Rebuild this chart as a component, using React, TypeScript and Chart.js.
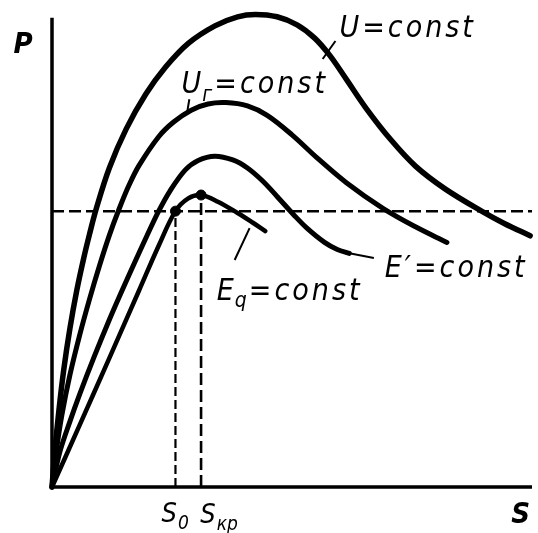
import React, { useEffect, useRef } from "react";
import { Chart, registerables } from "chart.js";

Chart.register(...registerables);

type Pt = { x: number; y: number };

// Angle axis (δ, degrees) and power axis (relative units)
const X_MAX = 180;
const Y_MAX = 100;
const Y_AXIS_TOP = 99;

// P(δ) with terminal voltage held constant
const uConst: Pt[] = [
  { x: 0, y: 0 }, { x: 1.1, y: 7.8 }, { x: 2.6, y: 16.2 }, { x: 4.4, y: 24.7 },
  { x: 6.7, y: 33.4 }, { x: 9.3, y: 41.5 }, { x: 11.9, y: 48.3 }, { x: 14.1, y: 53.4 },
  { x: 16.7, y: 58.9 }, { x: 21.5, y: 67.3 }, { x: 27.8, y: 75.5 }, { x: 35.2, y: 82.9 },
  { x: 42.6, y: 88.6 }, { x: 51.1, y: 93.6 }, { x: 61.1, y: 97.3 }, { x: 69.6, y: 99.2 },
  { x: 76.3, y: 99.7 }, { x: 84.4, y: 99.2 }, { x: 91.9, y: 97.5 }, { x: 98.5, y: 94.7 },
  { x: 104.1, y: 91.1 }, { x: 110.4, y: 86.0 }, { x: 117.8, y: 79.9 }, { x: 127.0, y: 73.3 },
  { x: 136.3, y: 67.7 }, { x: 147.4, y: 62.9 }, { x: 161.1, y: 58.2 }, { x: 169.6, y: 55.6 },
  { x: 179.3, y: 53.0 },
];

// P(δ) with generator voltage Uг held constant
const urConst: Pt[] = [
  { x: 0, y: 0 }, { x: 1.9, y: 8.7 }, { x: 3.7, y: 15.2 }, { x: 6.7, y: 23.6 },
  { x: 10.4, y: 32.1 }, { x: 14.1, y: 39.7 }, { x: 17.8, y: 46.7 }, { x: 21.5, y: 53.1 },
  { x: 25.2, y: 58.7 }, { x: 28.9, y: 63.7 }, { x: 32.6, y: 67.8 }, { x: 40.0, y: 73.9 },
  { x: 45.6, y: 77.0 }, { x: 52.2, y: 79.5 }, { x: 58.5, y: 80.8 }, { x: 65.2, y: 81.1 },
  { x: 73.3, y: 80.4 }, { x: 80.7, y: 78.4 }, { x: 90.0, y: 74.3 }, { x: 99.3, y: 69.5 },
  { x: 110.4, y: 64.2 }, { x: 124.1, y: 58.8 }, { x: 136.3, y: 54.9 }, { x: 148.1, y: 51.6 },
];

// P(δ) with transient EMF E′ held constant
const ePrimeConst: Pt[] = [
  { x: 0, y: 0 }, { x: 3.0, y: 7.5 }, { x: 6.7, y: 13.8 }, { x: 10.4, y: 19.6 },
  { x: 15.9, y: 27.6 }, { x: 21.5, y: 35.3 }, { x: 25.9, y: 41.0 }, { x: 30.7, y: 47.0 },
  { x: 35.6, y: 53.0 }, { x: 40.0, y: 58.2 }, { x: 44.4, y: 62.6 }, { x: 50.0, y: 66.9 },
  { x: 54.8, y: 68.9 }, { x: 61.1, y: 69.8 }, { x: 67.8, y: 69.0 }, { x: 73.3, y: 67.3 },
  { x: 78.9, y: 64.6 }, { x: 84.4, y: 61.3 }, { x: 90.7, y: 57.4 }, { x: 95.6, y: 54.6 },
  { x: 102.2, y: 51.6 }, { x: 107.0, y: 50.1 }, { x: 111.5, y: 49.3 },
];

// P(δ) with synchronous EMF Eq held constant
const eqConst: Pt[] = [
  { x: 0, y: 0 }, { x: 10.4, y: 13.1 }, { x: 21.5, y: 27.2 }, { x: 32.6, y: 41.4 },
  { x: 40.0, y: 50.9 }, { x: 46.3, y: 58.2 }, { x: 51.1, y: 60.9 }, { x: 55.9, y: 61.6 },
  { x: 62.2, y: 60.2 }, { x: 69.6, y: 57.8 }, { x: 75.2, y: 55.8 }, { x: 80.0, y: 54.0 },
];

// Operating point and critical point
const P0 = 58.2;
const S0 = 46.3;
const S_KP = 55.9;
const P_MAX_EQ = 61.6;

// Leader strokes from the curves to their captions
const leaderU: Pt[] = [{ x: 101.5, y: 90.3 }, { x: 106.3, y: 94.1 }];
const leaderUr: Pt[] = [{ x: 50.7, y: 79.1 }, { x: 51.5, y: 81.8 }];
const leaderEPrime: Pt[] = [{ x: 111.5, y: 49.3 }, { x: 120.7, y: 48.3 }];
const leaderEq: Pt[] = [{ x: 74.1, y: 54.6 }, { x: 68.5, y: 47.9 }];

// Captions: anchor (left, baseline) in data units, main letter, subscript, remainder
type Caption = { x: number; y: number; main: string; sub: string; rest: string; size: number; bold?: boolean };
const captions: Caption[] = [
  { x: 107.8, y: 94.9, main: "U", sub: "", rest: "=const", size: 30 },
  { x: 48.6, y: 83.1, main: "U", sub: "г", rest: "=const", size: 30 },
  { x: 124.8, y: 44.3, main: "E′", sub: "", rest: "=const", size: 30 },
  { x: 61.8, y: 39.5, main: "E", sub: "q", rest: "=const", size: 30 },
  { x: -14.4, y: 91.6, main: "P", sub: "", rest: "", size: 29, bold: true },
  { x: 172.2, y: -7.6, main: "S", sub: "", rest: "", size: 29, bold: true },
  { x: 41.1, y: -7.4, main: "S", sub: "0", rest: "", size: 27 },
  { x: 55.6, y: -7.6, main: "S", sub: "кр", rest: "", size: 27 },
];

const FAMILY = "'Liberation Sans Narrow', 'DejaVu Sans Condensed', 'DejaVu Sans', sans-serif";

const curve = (data: Pt[], width: number) => ({
  data,
  showLine: true,
  borderColor: "#000",
  borderWidth: width,
  pointRadius: 0,
  tension: 0.35,
  borderCapStyle: "round" as const,
  borderJoinStyle: "round" as const,
  clip: false as const,
});

const straight = (data: Pt[], width: number, dash: number[] = []) => ({
  data,
  showLine: true,
  borderColor: "#000",
  borderWidth: width,
  borderDash: dash,
  pointRadius: 0,
  tension: 0,
  clip: false as const,
});

const axesAndCaptions = {
  id: "axesAndCaptions",
  beforeDatasetsDraw(chart: any) {
    const { ctx, scales } = chart;
    const xs = scales.x;
    const ys = scales.y;
    ctx.save();
    ctx.strokeStyle = "#000";
    ctx.lineWidth = 3.5;
    ctx.lineCap = "butt";
    ctx.beginPath();
    ctx.moveTo(xs.getPixelForValue(0), ys.getPixelForValue(Y_AXIS_TOP));
    ctx.lineTo(xs.getPixelForValue(0), ys.getPixelForValue(0));
    ctx.lineTo(xs.getPixelForValue(X_MAX), ys.getPixelForValue(0));
    ctx.stroke();
    ctx.restore();
  },
  afterDatasetsDraw(chart: any) {
    const { ctx, scales } = chart;
    const xs = scales.x;
    const ys = scales.y;
    ctx.save();
    ctx.fillStyle = "#000";
    ctx.textBaseline = "alphabetic";
    ctx.textAlign = "left";
    for (const c of captions) {
      let px = xs.getPixelForValue(c.x);
      const py = ys.getPixelForValue(c.y);
      const weight = c.bold ? "bold " : "";
      ctx.letterSpacing = "3px";
      ctx.font = `italic ${weight}${c.size}px ${FAMILY}`;
      ctx.fillText(c.main, px, py);
      px += ctx.measureText(c.main).width;
      if (c.sub) {
        const s = Math.round(c.size * 0.7);
        ctx.letterSpacing = "0px";
        ctx.font = `italic ${s}px ${FAMILY}`;
        ctx.fillText(c.sub, px - 2, py + c.size * 0.25);
        px += ctx.measureText(c.sub).width;
      }
      if (c.rest) {
        ctx.letterSpacing = "3px";
        ctx.font = `italic ${weight}${c.size}px ${FAMILY}`;
        ctx.fillText(c.rest, px, py);
      }
    }
    ctx.restore();
  },
};

export default function App() {
  const ref = useRef<HTMLCanvasElement | null>(null);

  useEffect(() => {
    const canvas = ref.current;
    if (!canvas) return;
    const chart = new Chart(canvas, {
      type: "scatter",
      data: {
        datasets: [
          straight([{ x: 0, y: P0 }, { x: X_MAX, y: P0 }], 2.5, [12, 5]),
          straight([{ x: S0, y: 0 }, { x: S0, y: P0 }], 2.2, [9, 4]),
          straight([{ x: S_KP, y: 0 }, { x: S_KP, y: P_MAX_EQ }], 2.6, [12, 5]),
          curve(uConst, 5.5),
          curve(urConst, 5),
          curve(ePrimeConst, 5),
          curve(eqConst, 4.5),
          straight(leaderU, 2),
          straight(leaderUr, 2),
          straight(leaderEPrime, 2),
          straight(leaderEq, 2),
          {
            data: [{ x: S0, y: P0 }, { x: S_KP, y: P_MAX_EQ }],
            showLine: false,
            pointRadius: 5,
            pointBackgroundColor: "#000",
            pointBorderColor: "#000",
            clip: false,
          },
        ] as any,
      },
      options: {
        animation: false,
        responsive: false,
        maintainAspectRatio: false,
        events: [],
        layout: { padding: { left: 52, right: 0, top: 13, bottom: 46 } },
        scales: {
          x: { type: "linear", min: 0, max: X_MAX, display: false },
          y: { type: "linear", min: 0, max: Y_MAX, display: false },
        },
        plugins: { legend: { display: false }, tooltip: { enabled: false } },
      },
      plugins: [axesAndCaptions],
    });
    return () => chart.destroy();
  }, []);

  return (
    <div style={{ position: "absolute", left: 0, top: 0, width: 538, height: 533, background: "#fff" }}>
      <canvas ref={ref} width={538} height={533} style={{ display: "block" }} />
    </div>
  );
}
